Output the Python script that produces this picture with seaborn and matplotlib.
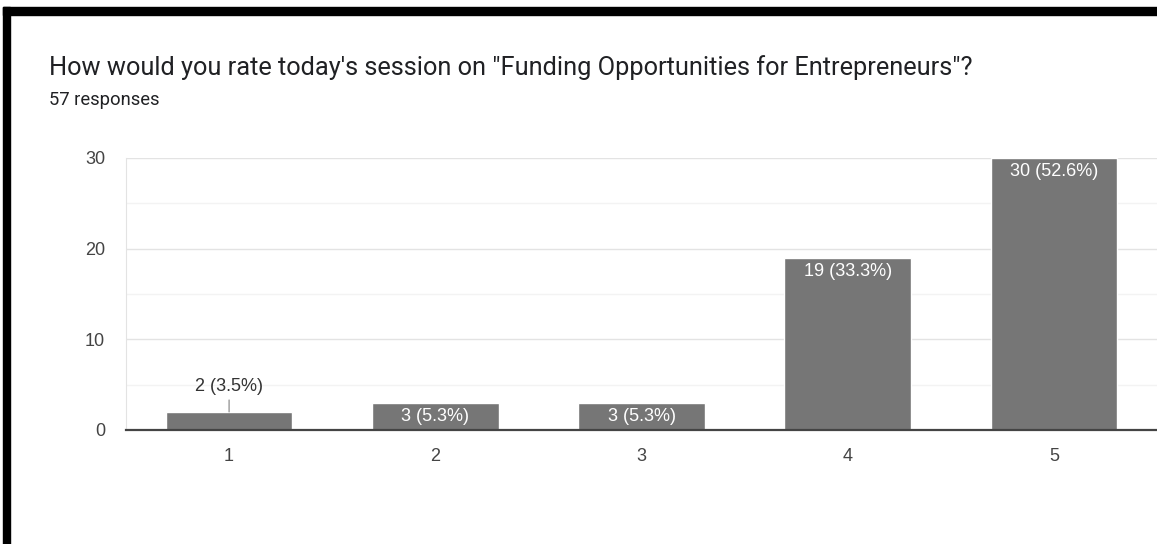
import matplotlib.pyplot as plt
import numpy as np
import pandas as pd
import seaborn as sns
from matplotlib.patches import Rectangle
from matplotlib.ticker import MultipleLocator

sns.set_style("white")
plt.rcParams['font.family'] = ['Liberation Sans', 'DejaVu Sans']

# values
ratings = ["1", "2", "3", "4", "5"]
counts = [2, 3, 3, 19, 30]
percents = ["3.5%", "5.3%", "5.3%", "33.3%", "52.6%"]

data = pd.DataFrame({"rating": ratings, "count": counts})

W, H = 1157, 544
fig = plt.figure(figsize=(W / 100, H / 100), dpi=100)
ax = fig.add_axes([126 / W, 114 / H, 1031 / W, 272 / H])

sns.barplot(data=data, x="rating", y="count", color="#767676", saturation=1,
            width=0.614, ax=ax, zorder=3)

ax.set_xlim(-0.5, 4.5)
ax.set_ylim(0, 30)
ax.yaxis.set_major_locator(MultipleLocator(10))
ax.yaxis.set_minor_locator(MultipleLocator(5))
ax.grid(axis="y", which="major", color="#e3e3e3", lw=1, zorder=0)
ax.grid(axis="y", which="minor", color="#f3f3f3", lw=1, zorder=0)
ax.set_axisbelow(True)

for s in ["top", "right"]:
    ax.spines[s].set_visible(False)
ax.spines["left"].set_color("#e3e3e3")
ax.spines["bottom"].set_color("#444444")
ax.spines["bottom"].set_linewidth(1.6)
ax.spines["bottom"].set_zorder(5)

ax.tick_params(axis="both", which="both", length=0, labelsize=13, labelcolor="#444444")
ax.tick_params(axis="y", pad=15)
ax.tick_params(axis="x", pad=13)
ax.set_xlabel("")
ax.set_ylabel("")

# bar labels: inside near the top, or above with a leader line for the small one
for i, (c, p) in enumerate(zip(counts, percents)):
    label = f"{c} ({p})"
    if c >= 3:
        ax.annotate(label, xy=(i, c), xytext=(0, -14), textcoords="offset pixels",
                    ha="center", va="center", color="white", fontsize=13, zorder=6)
    else:
        ax.annotate(label, xy=(i, c), xytext=(0, 25), textcoords="offset pixels",
                    ha="center", va="center", color="#333333", fontsize=13, zorder=6,
                    arrowprops=dict(arrowstyle="-", color="#999999", lw=1,
                                    shrinkA=1, shrinkB=0))

fig.text(49 / W, 1 - 75 / H,
         'How would you rate today\'s session on "Funding Opportunities for Entrepreneurs"?',
         fontsize=18.3, color="#202124", va="baseline", family=["Roboto", "DejaVu Sans"])
fig.text(49 / W, 1 - 105 / H, "57 responses", fontsize=13.2, color="#202124",
         va="baseline", family=["Roboto", "DejaVu Sans"])

# black frame of the screenshot
fig.patches.append(Rectangle((3 / W, 0), 7 / W, 1 - 7 / H, transform=fig.transFigure,
                             color="black", zorder=10))
fig.patches.append(Rectangle((3 / W, 1 - 15 / H), 1 - 3 / W, 8 / H,
                             transform=fig.transFigure, color="black", zorder=10))

plt.savefig("out.png", dpi=100)
